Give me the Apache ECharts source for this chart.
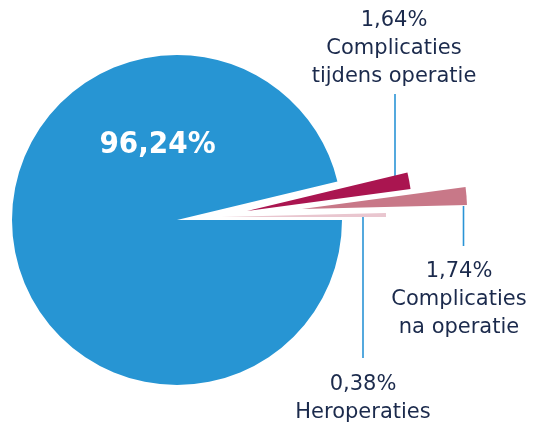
<!DOCTYPE html>
<html><head><meta charset="utf-8">
<script src="https://cdn.jsdelivr.net/npm/echarts@6/dist/echarts.min.js"></script>
<style>html,body{margin:0;padding:0;background:#fff}#c{width:537px;height:423px}</style>
</head><body><div id="c"></div>
<script>
// data
const categories = ['Zonder complicaties', 'Complicaties\ntijdens operatie', 'Complicaties\nna operatie', 'Heroperaties'];
const values = [96.24, 1.64, 1.74, 0.38];
const colors = ['#2795d3', '#aa1550', '#c87888', '#e9c6cf'];

// layout (pixel positions for the exploded slices, labels and leader lines)
const centers = [[177, 220], [247, 211], [302, 209], [221, 217]];
const labelAnchors = [[157.5, 145], [394, 49], [459, 300], [363, 399]];
const leaderLines = [null, [[395, 94], [395, 176]], [[463.5, 206], [463.5, 246]], [[363, 217], [363, 358]]];
const leaderStyle = { color: '#2a94d6', width: 1.6, opacity: 1 };

function fmt(v) { return v.toFixed(2).replace('.', ',') + '%'; }

const series = categories.map((_, i) => ({
  type: 'pie',
  silent: true,
  center: centers[i],
  radius: 165,
  startAngle: 0,
  clockwise: true,
  avoidLabelOverlap: false,
  animation: false,
  emphasis: { disabled: true },
  label: i === 0 ? {
    position: 'inside',
    color: '#ffffff',
    fontFamily: '"DejaVu Sans Condensed", "DejaVu Sans", sans-serif',
    fontWeight: 'bold',
    fontSize: 31,
    formatter: p => fmt(p.value)
  } : {
    position: 'outside',
    color: '#1b2a4c',
    fontFamily: '"DejaVu Sans", sans-serif',
    fontSize: 21,
    lineHeight: 28,
    align: 'center',
    formatter: p => fmt(p.value) + '\n' + p.name
  },
  labelLine: { show: i > 0, lineStyle: leaderStyle },
  labelLayout: function () {
    const a = labelAnchors[i];
    const o = { x: a[0], y: a[1], align: 'center', verticalAlign: 'middle' };
    const ll = leaderLines[i];
    if (ll) o.labelLinePoints = [ll[0], ll[0], ll[1]];
    return o;
  },
  data: categories.map((name, j) => ({
    name: name,
    value: values[j],
    itemStyle: { color: j === i ? colors[j] : 'rgba(0,0,0,0)' },
    label: { show: j === i },
    labelLine: { show: j === i && i > 0, lineStyle: leaderStyle }
  }))
}));

const chart = echarts.init(document.getElementById('c'), null, { renderer: 'canvas' });
chart.setOption({ backgroundColor: '#ffffff', series: series });
</script>
</body></html>
